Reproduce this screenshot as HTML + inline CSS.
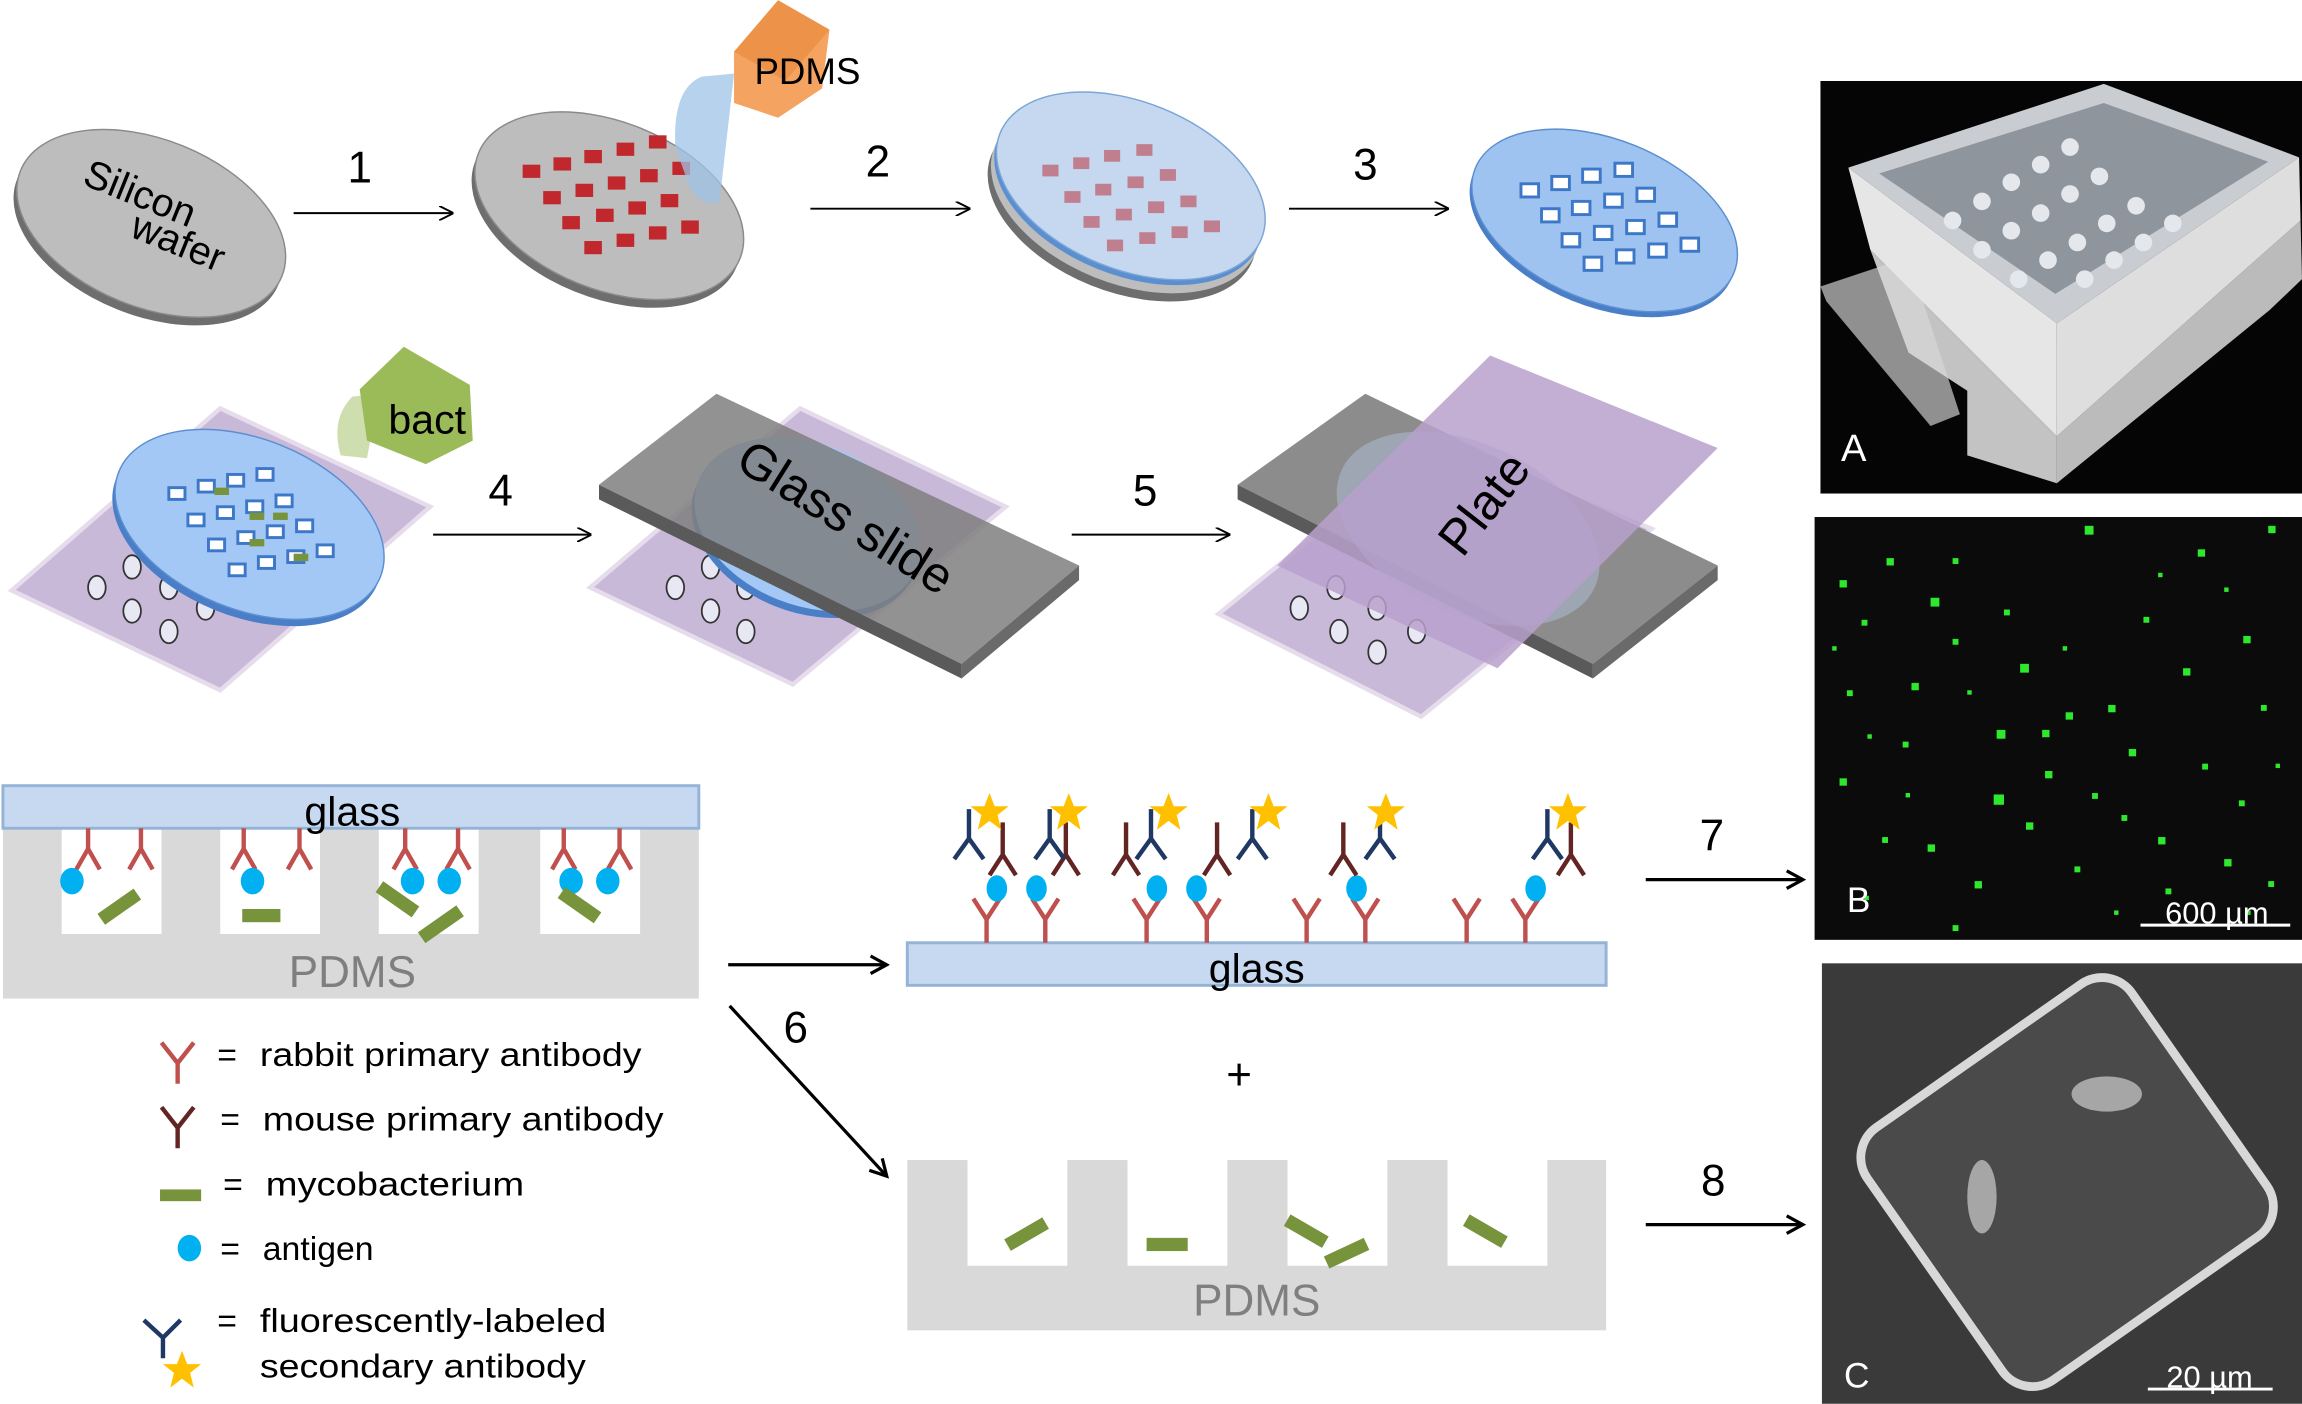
<!DOCTYPE html>
<html><head><meta charset="utf-8"><style>
html,body{margin:0;padding:0;background:#fff;}
svg{display:block;}
text{font-family:"Liberation Sans",sans-serif;}
</style></head><body>
<svg width="2302" height="1404" viewBox="0 0 1568 956" xmlns="http://www.w3.org/2000/svg">
<defs>
<marker id="ah" markerWidth="10" markerHeight="10" refX="9" refY="5" orient="auto" markerUnits="userSpaceOnUse"><path d="M0,0 L10,5 L0,10" fill="none" stroke="#000" stroke-width="1.3"/></marker>
<marker id="ah2" markerWidth="14" markerHeight="14" refX="12" refY="7" orient="auto" markerUnits="userSpaceOnUse"><path d="M1,1 L12,7 L1,13" fill="none" stroke="#000" stroke-width="2.2"/></marker>
<g id="ydn"><path d="M0,0 V14 M0,14 L-8,28 M0,14 L8,28" stroke="#c0504d" stroke-width="3" fill="none"/></g>
<g id="yup"><path d="M0,0 V-16 M0,-16 L-9,-30 M0,-16 L9,-30" stroke="#c0504d" stroke-width="3" fill="none"/></g>
<g id="ym"><path d="M0,0 V-22 M0,0 L-9,14 M0,0 L9,14" stroke="#632523" stroke-width="3" fill="none"/></g>
<g id="ys"><path d="M0,0 V-20 M0,0 L-10,14 M0,0 L10,14" stroke="#1f3864" stroke-width="3" fill="none"/></g>
<polygon id="star" points="0,-13 3.5,-4 13,-4 5.5,2 8,12 0,6 -8,12 -5.5,2 -13,-4 -3.5,-4" fill="#ffc000"/>
</defs>

<!-- Row 1 -->
<g transform="translate(103,152) rotate(22)">
<ellipse cx="0" cy="6" rx="96" ry="57" fill="#6e6e6e"/>
<ellipse cx="0" cy="0" rx="96" ry="57" fill="#bdbdbd" stroke="#8a8a8a"/>
</g>
<text x="92" y="140" font-size="27" transform="rotate(22 92 140)" text-anchor="middle">Silicon</text>
<text x="118" y="173" font-size="27" transform="rotate(22 118 173)" text-anchor="middle">wafer</text>
<line x1="200" y1="145" x2="308" y2="145" stroke="#000" stroke-width="1.3" marker-end="url(#ah)"/>
<text x="245" y="124" font-size="30" text-anchor="middle">1</text>

<g transform="translate(415,140) rotate(22)">
<ellipse cx="0" cy="6" rx="96" ry="57" fill="#6e6e6e"/>
<ellipse cx="0" cy="0" rx="96" ry="57" fill="#bdbdbd" stroke="#8a8a8a"/>
</g>
<g fill="#c0282d">
<rect x="356" y="112" width="12" height="9"/><rect x="377" y="107" width="12" height="9"/><rect x="398" y="102" width="12" height="9"/><rect x="420" y="97" width="12" height="9"/><rect x="442" y="92" width="12" height="9"/>
<rect x="370" y="130" width="12" height="9"/><rect x="392" y="125" width="12" height="9"/><rect x="414" y="120" width="12" height="9"/><rect x="436" y="115" width="12" height="9"/><rect x="458" y="110" width="12" height="9"/>
<rect x="383" y="147" width="12" height="9"/><rect x="406" y="142" width="12" height="9"/><rect x="428" y="137" width="12" height="9"/><rect x="450" y="132" width="12" height="9"/>
<rect x="398" y="164" width="12" height="9"/><rect x="420" y="159" width="12" height="9"/><rect x="442" y="154" width="12" height="9"/><rect x="464" y="150" width="12" height="9"/>
</g>
<path d="M478,52 Q458,60 460,100 L470,128 Q478,140 490,138 L500,50 Z" fill="#9dc3e6" opacity="0.75"/>
<polygon points="500,35 530,0 565,20 560,60 530,80 500,70" fill="#f4a460"/>
<polygon points="500,35 530,0 565,20 535,55" fill="#e8883a" opacity="0.6"/>
<text x="550" y="57" font-size="25" text-anchor="middle">PDMS</text>
<line x1="552" y1="142" x2="660" y2="142" stroke="#000" stroke-width="1.3" marker-end="url(#ah)"/>
<text x="598" y="120" font-size="30" text-anchor="middle">2</text>

<g transform="translate(768,132) rotate(22)">
<ellipse cx="0" cy="10" rx="96" ry="57" fill="#6e6e6e"/>
<ellipse cx="0" cy="4" rx="96" ry="57" fill="#bdbdbd"/>
<ellipse cx="0" cy="-2" rx="96" ry="57" fill="#5b8fd0"/>
<ellipse cx="0" cy="-6" rx="96" ry="57" fill="#c5d8ef" stroke="#7aa6d8"/>
</g>
<g fill="#c06a78" opacity="0.8">
<rect x="710" y="112" width="11" height="8"/><rect x="731" y="107" width="11" height="8"/><rect x="752" y="102" width="11" height="8"/><rect x="774" y="98" width="11" height="8"/><rect x="725" y="130" width="11" height="8"/><rect x="746" y="125" width="11" height="8"/><rect x="768" y="120" width="11" height="8"/><rect x="790" y="115" width="11" height="8"/><rect x="738" y="147" width="11" height="8"/><rect x="760" y="142" width="11" height="8"/><rect x="782" y="137" width="11" height="8"/><rect x="804" y="133" width="11" height="8"/><rect x="754" y="163" width="11" height="8"/><rect x="776" y="158" width="11" height="8"/><rect x="798" y="154" width="11" height="8"/><rect x="820" y="150" width="11" height="8"/>
</g>
<line x1="878" y1="142" x2="986" y2="142" stroke="#000" stroke-width="1.3" marker-end="url(#ah)"/>
<text x="930" y="122" font-size="30" text-anchor="middle">3</text>

<g transform="translate(1093,150) rotate(22)">
<ellipse cx="0" cy="4" rx="95" ry="55" fill="#4a7fc8"/>
<ellipse cx="0" cy="0" rx="95" ry="55" fill="#9ec3f0" stroke="#5b8fd0"/>
</g>
<g fill="#fff" stroke="#3d78c8" stroke-width="2">
<rect x="1036" y="125" width="12" height="9"/><rect x="1057" y="120" width="12" height="9"/><rect x="1078" y="115" width="12" height="9"/><rect x="1100" y="111" width="12" height="9"/>
<rect x="1050" y="142" width="12" height="9"/><rect x="1071" y="137" width="12" height="9"/><rect x="1093" y="132" width="12" height="9"/><rect x="1115" y="128" width="12" height="9"/>
<rect x="1064" y="159" width="12" height="9"/><rect x="1086" y="154" width="12" height="9"/><rect x="1108" y="150" width="12" height="9"/><rect x="1130" y="145" width="12" height="9"/>
<rect x="1079" y="175" width="12" height="9"/><rect x="1101" y="170" width="12" height="9"/><rect x="1123" y="166" width="12" height="9"/><rect x="1145" y="162" width="12" height="9"/>
</g>

<!-- Row 2 -->
<polygon points="8,402 150,278 293,345 150,470" fill="#c9b9d9" stroke="#e6dcec" stroke-width="3"/>
<g fill="#e8e8f4" stroke="#333" stroke-width="1.2">
<ellipse cx="66" cy="400" rx="6" ry="8"/><ellipse cx="90" cy="386" rx="6" ry="8"/><ellipse cx="90" cy="416" rx="6" ry="8"/><ellipse cx="115" cy="400" rx="6" ry="8"/><ellipse cx="115" cy="430" rx="6" ry="8"/><ellipse cx="140" cy="414" rx="6" ry="8"/>
</g>
<g transform="translate(170,357) rotate(22)">
<ellipse cx="0" cy="5" rx="96" ry="58" fill="#4a7fc8"/>
<ellipse cx="0" cy="0" rx="96" ry="58" fill="#a3c8f5" stroke="#5b8fd0"/>
</g>
<g fill="#fff" stroke="#3d78c8" stroke-width="2">
<rect x="115" y="332" width="11" height="8"/><rect x="135" y="327" width="11" height="8"/><rect x="155" y="323" width="11" height="8"/><rect x="175" y="319" width="11" height="8"/>
<rect x="128" y="350" width="11" height="8"/><rect x="148" y="345" width="11" height="8"/><rect x="168" y="341" width="11" height="8"/><rect x="188" y="337" width="11" height="8"/>
<rect x="142" y="367" width="11" height="8"/><rect x="162" y="362" width="11" height="8"/><rect x="182" y="358" width="11" height="8"/><rect x="202" y="354" width="11" height="8"/>
<rect x="156" y="384" width="11" height="8"/><rect x="176" y="379" width="11" height="8"/><rect x="196" y="375" width="11" height="8"/><rect x="216" y="371" width="11" height="8"/>
</g>
<g fill="#77933c"><rect x="146" y="332" width="10" height="5"/><rect x="170" y="349" width="10" height="5"/><rect x="186" y="349" width="10" height="5"/><rect x="170" y="367" width="10" height="5"/><rect x="200" y="377" width="10" height="5"/></g>
<path d="M240,270 Q225,285 232,310 L250,312 L258,268 Z" fill="#c3d69b" opacity="0.8"/>
<polygon points="245,265 275,236 320,262 322,300 290,316 250,300" fill="#9bbb59"/>
<text x="291" y="295" font-size="28" text-anchor="middle">bact</text>
<line x1="295" y1="364" x2="402" y2="364" stroke="#000" stroke-width="1.3" marker-end="url(#ah)"/>
<text x="341" y="344" font-size="30" text-anchor="middle">4</text>

<polygon points="402,400 545,278 685,345 540,466" fill="#c9b9d9" stroke="#e6dcec" stroke-width="3"/>
<g fill="#e8e8f4" stroke="#333" stroke-width="1.2">
<ellipse cx="460" cy="400" rx="6" ry="8"/><ellipse cx="484" cy="386" rx="6" ry="8"/><ellipse cx="484" cy="416" rx="6" ry="8"/><ellipse cx="508" cy="400" rx="6" ry="8"/><ellipse cx="508" cy="430" rx="6" ry="8"/>
</g>
<g transform="translate(550,357) rotate(22)"><ellipse cx="0" cy="5" rx="80" ry="55" fill="#4a7fc8"/><ellipse cx="0" cy="0" rx="80" ry="55" fill="#a3c8f5"/></g>
<polygon points="408,330 488,268 735,385 655,452" fill="#7f7f7f" opacity="0.85"/>
<polygon points="408,330 408,340 655,462 655,452" fill="#5a5a5a"/>
<polygon points="655,452 735,385 735,395 655,462" fill="#6a6a6a"/>
<text x="570" y="362" font-size="34" text-anchor="middle" transform="rotate(32 570 362)">Glass slide</text>
<line x1="730" y1="364" x2="837" y2="364" stroke="#000" stroke-width="1.3" marker-end="url(#ah)"/>
<text x="780" y="344" font-size="30" text-anchor="middle">5</text>

<polygon points="830,418 975,300 1125,360 968,488" fill="#c9b9d9" stroke="#e6dcec" stroke-width="3"/>
<g fill="#e8e8f4" stroke="#333" stroke-width="1.2">
<ellipse cx="885" cy="414" rx="6" ry="8"/><ellipse cx="910" cy="400" rx="6" ry="8"/><ellipse cx="912" cy="430" rx="6" ry="8"/><ellipse cx="938" cy="414" rx="6" ry="8"/><ellipse cx="938" cy="444" rx="6" ry="8"/><ellipse cx="965" cy="430" rx="6" ry="8"/>
</g>
<polygon points="843,330 930,268 1170,385 1085,452" fill="#8c8c8c"/>
<polygon points="843,330 843,340 1085,462 1085,452" fill="#5a5a5a"/>
<polygon points="1085,452 1170,385 1170,395 1085,462" fill="#6a6a6a"/>
<ellipse cx="1000" cy="360" rx="95" ry="58" transform="rotate(25 1000 360)" fill="#a8b8cc" opacity="0.6"/>
<polygon points="870,385 1015,242 1170,305 1020,455" fill="#b9a0cc" opacity="0.85"/>
<text x="1020" y="350" font-size="34" text-anchor="middle" transform="rotate(-52 1020 350)">Plate</text>

<!-- Row 3 left -->
<rect x="2" y="563" width="474" height="117" fill="#d9d9d9"/>
<g fill="#fff"><rect x="42" y="563" width="68" height="73"/><rect x="150" y="563" width="68" height="73"/><rect x="258" y="563" width="68" height="73"/><rect x="368" y="563" width="68" height="73"/></g>
<rect x="2" y="535" width="474" height="29" fill="#c6d9f0" stroke="#95b3d7" stroke-width="2"/>
<text x="240" y="562" font-size="28" text-anchor="middle">glass</text>
<text x="240" y="672" font-size="30" fill="#7f7f7f" text-anchor="middle">PDMS</text>
<use href="#ydn" x="60" y="564"/><use href="#ydn" x="96" y="564"/><use href="#ydn" x="166" y="564"/><use href="#ydn" x="204" y="564"/><use href="#ydn" x="276" y="564"/><use href="#ydn" x="312" y="564"/><use href="#ydn" x="384" y="564"/><use href="#ydn" x="422" y="564"/>
<g fill="#00b0f0"><ellipse cx="49" cy="600" rx="8" ry="9"/><ellipse cx="172" cy="600" rx="8" ry="9"/><ellipse cx="281" cy="600" rx="8" ry="9"/><ellipse cx="306" cy="600" rx="8" ry="9"/><ellipse cx="389" cy="600" rx="8" ry="9"/><ellipse cx="414" cy="600" rx="8" ry="9"/></g>
<g fill="#77933c">
<rect x="66" y="613" width="30" height="9" transform="rotate(-35 81 617)"/>
<rect x="165" y="619" width="26" height="9"/>
<rect x="256" y="608" width="30" height="9" transform="rotate(35 271 612)"/>
<rect x="284" y="625" width="32" height="9" transform="rotate(-35 300 629)"/>
<rect x="380" y="612" width="30" height="9" transform="rotate(35 395 616)"/>
</g>

<!-- arrows row 3 -->
<line x1="496" y1="657" x2="604" y2="657" stroke="#000" stroke-width="2.2" marker-end="url(#ah2)"/>
<line x1="497" y1="685" x2="604" y2="801" stroke="#000" stroke-width="2.2" marker-end="url(#ah2)"/>
<text x="542" y="710" font-size="30" text-anchor="middle">6</text>

<!-- bottom glass -->
<rect x="618" y="642" width="476" height="29" fill="#c6d9f0" stroke="#95b3d7" stroke-width="2"/>
<text x="856" y="669" font-size="28" text-anchor="middle">glass</text>
<use href="#yup" x="672" y="642"/><use href="#yup" x="712" y="642"/><use href="#yup" x="781" y="642"/><use href="#yup" x="822" y="642"/><use href="#yup" x="890" y="642"/><use href="#yup" x="930" y="642"/><use href="#yup" x="999" y="642"/><use href="#yup" x="1039" y="642"/>
<g fill="#00b0f0"><ellipse cx="679" cy="605" rx="7" ry="9"/><ellipse cx="706" cy="605" rx="7" ry="9"/><ellipse cx="788" cy="605" rx="7" ry="9"/><ellipse cx="815" cy="605" rx="7" ry="9"/><ellipse cx="924" cy="605" rx="7" ry="9"/><ellipse cx="1046" cy="605" rx="7" ry="9"/></g>
<use href="#ym" x="683" y="582"/><use href="#ym" x="726" y="582"/><use href="#ym" x="767" y="582"/><use href="#ym" x="829" y="582"/><use href="#ym" x="915" y="582"/><use href="#ym" x="1070" y="582"/>
<use href="#ys" x="660" y="571"/><use href="#ys" x="715" y="571"/><use href="#ys" x="784" y="571"/><use href="#ys" x="853" y="571"/><use href="#ys" x="940" y="571"/><use href="#ys" x="1054" y="571"/>
<use href="#star" x="674" y="553"/><use href="#star" x="728" y="553"/><use href="#star" x="796" y="553"/><use href="#star" x="864" y="553"/><use href="#star" x="944" y="553"/><use href="#star" x="1068" y="553"/>

<text x="844" y="742" font-size="30" text-anchor="middle">+</text>

<rect x="618" y="790" width="476" height="116" fill="#d9d9d9"/>
<g fill="#fff"><rect x="659" y="790" width="68" height="72"/><rect x="768" y="790" width="68" height="72"/><rect x="877" y="790" width="68" height="72"/><rect x="986" y="790" width="68" height="72"/></g>
<text x="856" y="896" font-size="30" fill="#7f7f7f" text-anchor="middle">PDMS</text>
<g fill="#77933c">
<rect x="684" y="836" width="30" height="9" transform="rotate(-30 699 840)"/>
<rect x="781" y="843" width="28" height="9"/>
<rect x="875" y="834" width="30" height="9" transform="rotate(30 890 838)"/>
<rect x="902" y="849" width="30" height="9" transform="rotate(-25 917 853)"/>
<rect x="997" y="834" width="30" height="9" transform="rotate(30 1012 838)"/>
</g>
<line x1="1121" y1="599" x2="1228" y2="599" stroke="#000" stroke-width="2.2" marker-end="url(#ah2)"/>
<text x="1166" y="579" font-size="30" text-anchor="middle">7</text>
<line x1="1121" y1="834" x2="1228" y2="834" stroke="#000" stroke-width="2.2" marker-end="url(#ah2)"/>
<text x="1167" y="814" font-size="30" text-anchor="middle">8</text>

<!-- legend -->
<path d="M121,738 V724 L110,710 M121,724 L132,710" stroke="#c0504d" stroke-width="3" fill="none"/>
<text x="148" y="726" font-size="23">=</text><text x="177" y="726" font-size="23" textLength="260" lengthAdjust="spacingAndGlyphs">rabbit primary antibody</text>
<path d="M121,782 V768 L110,754 M121,768 L132,754" stroke="#632523" stroke-width="3" fill="none"/>
<text x="150" y="770" font-size="23">=</text><text x="179" y="770" font-size="23" textLength="273" lengthAdjust="spacingAndGlyphs">mouse primary antibody</text>
<rect x="109" y="810" width="28" height="8" fill="#77933c"/>
<text x="152" y="814" font-size="23">=</text><text x="181" y="814" font-size="23" textLength="176" lengthAdjust="spacingAndGlyphs">mycobacterium</text>
<ellipse cx="129" cy="850" rx="8" ry="9" fill="#00b0f0"/>
<text x="150" y="858" font-size="23">=</text><text x="179" y="858" font-size="23">antigen</text>
<path d="M111,925 V911 L98,899 M111,911 L123,899" stroke="#1f3864" stroke-width="3" fill="none"/>
<use href="#star" x="124" y="933"/>
<text x="148" y="907" font-size="23">=</text><text x="177" y="907" font-size="23" textLength="236" lengthAdjust="spacingAndGlyphs">fluorescently-labeled</text>
<text x="177" y="938" font-size="23" textLength="222" lengthAdjust="spacingAndGlyphs">secondary antibody</text>

<!-- Photo A -->
<rect x="1240" y="55" width="328" height="281" fill="#050505"/>
<polygon points="1240,195 1300,175 1335,282 1315,290 1244,205" fill="#bfbfbf" opacity="0.75"/>
<polygon points="1274,170 1401,297 1401,329 1340,310 1340,266 1300,240" fill="#d8d8d8" opacity="0.9"/>
<polygon points="1401,297 1567,150 1568,190 1546,211 1401,329" fill="#cfcfcf" opacity="0.9"/>
<polygon points="1259,114 1433,57 1566,107 1401,220" fill="#c9cdd2"/>
<polygon points="1280,118 1433,70 1545,110 1400,200" fill="#8f959c"/>
<polygon points="1259,114 1274,170 1401,297 1401,220" fill="#e6e6e6"/>
<polygon points="1401,220 1566,107 1567,150 1401,297" fill="#dedede"/>
<g fill="#e4e8ec">
<circle cx="1330" cy="150" r="6"/><circle cx="1350" cy="137" r="6"/><circle cx="1370" cy="124" r="6"/><circle cx="1390" cy="112" r="6"/><circle cx="1410" cy="100" r="6"/>
<circle cx="1350" cy="170" r="6"/><circle cx="1370" cy="157" r="6"/><circle cx="1390" cy="145" r="6"/><circle cx="1410" cy="132" r="6"/><circle cx="1430" cy="120" r="6"/>
<circle cx="1375" cy="190" r="6"/><circle cx="1395" cy="177" r="6"/><circle cx="1415" cy="165" r="6"/><circle cx="1435" cy="152" r="6"/><circle cx="1455" cy="140" r="6"/>
<circle cx="1420" cy="190" r="6"/><circle cx="1440" cy="177" r="6"/><circle cx="1460" cy="165" r="6"/><circle cx="1480" cy="152" r="6"/>
</g>
<text x="1254" y="314" font-size="26" fill="#fff">A</text>

<!-- Photo B -->
<rect x="1236" y="352" width="332" height="288" fill="#0b0b0b"/>
<g fill="#2ee82e">
<rect x="1253" y="395" width="5" height="5"/><rect x="1268" y="422" width="4" height="4"/><rect x="1285" y="380" width="5" height="5"/><rect x="1315" y="407" width="6" height="6"/><rect x="1302" y="465" width="5" height="5"/><rect x="1330" y="435" width="4" height="4"/><rect x="1360" y="497" width="6" height="6"/><rect x="1376" y="452" width="6" height="6"/><rect x="1391" y="497" width="5" height="5"/><rect x="1420" y="358" width="6" height="6"/><rect x="1436" y="480" width="5" height="5"/><rect x="1450" y="510" width="5" height="5"/><rect x="1497" y="374" width="5" height="5"/><rect x="1528" y="433" width="5" height="5"/><rect x="1545" y="358" width="5" height="5"/><rect x="1358" y="541" width="7" height="7"/><rect x="1393" y="525" width="5" height="5"/><rect x="1253" y="530" width="5" height="5"/><rect x="1282" y="570" width="4" height="4"/><rect x="1313" y="575" width="5" height="5"/><rect x="1345" y="600" width="5" height="5"/><rect x="1380" y="560" width="5" height="5"/><rect x="1413" y="590" width="4" height="4"/><rect x="1445" y="555" width="4" height="4"/><rect x="1470" y="570" width="5" height="5"/><rect x="1500" y="520" width="4" height="4"/><rect x="1515" y="585" width="5" height="5"/><rect x="1545" y="600" width="4" height="4"/><rect x="1330" y="380" width="4" height="4"/><rect x="1365" y="415" width="4" height="4"/><rect x="1460" y="420" width="4" height="4"/><rect x="1487" y="455" width="5" height="5"/><rect x="1540" y="480" width="4" height="4"/><rect x="1258" y="470" width="4" height="4"/><rect x="1296" y="505" width="4" height="4"/><rect x="1407" y="485" width="5" height="5"/><rect x="1425" y="540" width="4" height="4"/><rect x="1330" y="630" width="4" height="4"/><rect x="1525" y="545" width="4" height="4"/><rect x="1475" y="605" width="4" height="4"/>
<rect x="1248" y="440" width="3" height="3"/><rect x="1272" y="500" width="3" height="3"/><rect x="1298" y="540" width="3" height="3"/><rect x="1340" y="470" width="3" height="3"/><rect x="1405" y="440" width="3" height="3"/><rect x="1470" y="390" width="3" height="3"/><rect x="1515" y="400" width="3" height="3"/><rect x="1550" y="520" width="3" height="3"/><rect x="1530" y="620" width="3" height="3"/><rect x="1270" y="610" width="3" height="3"/><rect x="1440" y="620" width="3" height="3"/>
</g>
<text x="1258" y="621" font-size="24" fill="#fff">B</text>
<line x1="1458" y1="630" x2="1560" y2="630" stroke="#fff" stroke-width="2"/>
<text x="1510" y="629" font-size="21" fill="#fff" text-anchor="middle">600 µm</text>

<!-- Photo C -->
<rect x="1241" y="656" width="327" height="300" fill="#3a3a3a"/>
<rect x="1298" y="700" width="220" height="210" rx="25" transform="rotate(-35 1408 805)" fill="#4a4a4a" stroke="#d8d8d8" stroke-width="6"/>
<g fill="#bdbdbd" opacity="0.8"><ellipse cx="1435" cy="745" rx="24" ry="12"/><ellipse cx="1350" cy="815" rx="10" ry="25"/></g>
<text x="1256" y="945" font-size="24" fill="#fff">C</text>
<line x1="1463" y1="946" x2="1548" y2="946" stroke="#fff" stroke-width="2"/>
<text x="1505" y="945" font-size="21" fill="#fff" text-anchor="middle">20 µm</text>
</svg>
</body></html>
